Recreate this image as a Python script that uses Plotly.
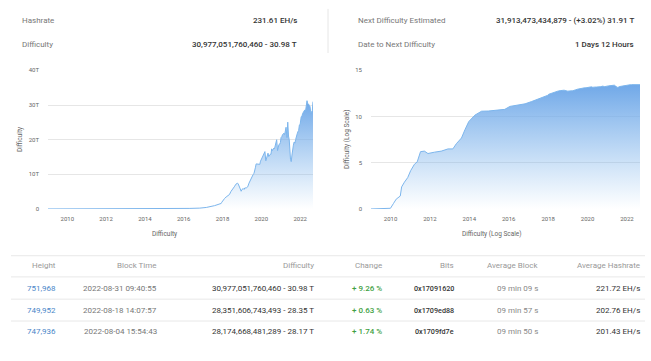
import math
import plotly.graph_objects as go

# ---------------- data ----------------
dates = [
    "2009-01-03", "2009-12-30", "2010-02-25", "2010-04-15", "2010-06-30", "2010-07-25",
    "2010-09-15", "2010-11-15", "2011-01-08", "2011-03-20", "2011-05-10", "2011-07-10",
    "2011-09-20", "2011-11-25", "2012-03-28", "2012-07-30", "2012-12-01", "2013-03-01",
    "2013-05-05", "2013-08-08", "2013-10-10", "2013-12-20", "2014-04-12", "2014-08-15",
    "2014-12-16", "2015-06-20", "2015-10-20", "2016-01-22", "2016-04-27", "2016-10-30",
    "2017-03-01", "2017-08-05", "2017-12-07", "2017-12-18", "2018-01-12", "2018-02-08",
    "2018-03-10", "2018-04-10", "2018-05-10", "2018-06-10", "2018-07-10", "2018-08-10",
    "2018-09-10", "2018-10-10", "2018-10-25", "2018-11-08", "2018-12-03", "2018-12-18",
    "2019-01-01", "2019-01-27", "2019-02-10", "2019-02-24", "2019-03-24", "2019-04-20",
    "2019-05-15", "2019-05-28", "2019-06-24", "2019-07-20", "2019-08-02", "2019-08-15",
    "2019-08-28", "2019-09-11", "2019-09-26", "2019-10-09", "2019-11-06", "2019-12-03",
    "2019-12-17", "2020-01-14", "2020-01-28", "2020-02-10", "2020-02-23", "2020-03-09",
    "2020-03-26", "2020-04-08", "2020-04-23", "2020-05-06", "2020-05-20", "2020-06-04",
    "2020-06-17", "2020-07-01", "2020-07-14", "2020-07-27", "2020-08-23", "2020-09-05",
    "2020-10-01", "2020-10-16", "2020-11-02", "2020-11-15", "2020-11-28", "2020-12-11",
    "2020-12-25", "2021-01-07", "2021-01-20", "2021-02-03", "2021-02-17", "2021-03-02",
    "2021-03-15", "2021-03-28", "2021-04-11", "2021-04-28", "2021-05-13", "2021-05-27",
    "2021-06-10", "2021-07-03", "2021-07-17", "2021-07-31", "2021-08-13", "2021-08-27",
    "2021-09-10", "2021-09-24", "2021-10-09", "2021-10-24", "2021-11-06", "2021-11-21",
    "2021-12-04", "2021-12-18", "2022-01-01", "2022-01-21", "2022-02-03", "2022-02-17",
    "2022-03-02", "2022-03-29", "2022-04-12", "2022-04-26", "2022-05-10", "2022-05-24",
    "2022-06-08", "2022-06-22", "2022-07-06", "2022-07-21", "2022-08-04", "2022-08-18",
    "2022-08-31",
]
difficulty = [
    1, 1.18, 4.0, 11.5, 25, 244,
    800, 2500, 13800, 70000, 126000, 1580000,
    1820000, 1000000, 1410000, 1820000, 3160000, 3160000,
    11.7e6, 47.9e6, 363e6, 2.82e9, 1.41e10, 3.8e10,
    3.98e10, 4.79e10, 6.03e10, 1.26e11, 1.58e11, 2.4e11,
    4.27e11, 9.55e11, 1.59e12, 1.93e12, 2.6e12, 3.0e12,
    3.46e12, 3.84e12, 4.14e12, 5.08e12, 5.95e12, 6.39e12,
    7.15e12, 7.45e12, 7.18e12, 6.65e12, 5.65e12, 5.11e12,
    5.62e12, 5.88e12, 5.62e12, 6.06e12, 6.07e12, 6.38e12,
    7.46e12, 7.93e12, 9.06e12, 9.98e12, 9.99e12, 10.18e12,
    10.77e12, 11.89e12, 13.01e12, 12.98e12, 12.97e12, 12.87e12,
    13.79e12, 14.78e12, 15.55e12, 15.47e12, 15.96e12, 16.55e12,
    13.91e12, 14.72e12, 15.14e12, 16.10e12, 15.14e12, 15.78e12,
    15.78e12, 15.78e12, 17.35e12, 16.85e12, 17.56e12, 17.35e12,
    19.31e12, 19.99e12, 16.85e12, 18.00e12, 18.60e12, 18.67e12,
    19.16e12, 20.61e12, 20.82e12, 21.43e12, 21.72e12, 21.87e12,
    21.45e12, 23.14e12, 23.58e12, 20.61e12, 25.05e12, 21.05e12,
    19.93e12, 14.36e12, 13.67e12, 15.56e12, 17.62e12, 18.42e12,
    19.31e12, 19.00e12, 20.08e12, 21.66e12, 21.66e12, 22.34e12,
    22.67e12, 24.27e12, 24.37e12, 26.64e12, 26.69e12, 27.55e12,
    27.97e12, 28.59e12, 28.23e12, 29.79e12, 31.25e12, 30.28e12,
    30.28e12, 29.90e12, 29.57e12, 27.69e12, 28.17e12, 28.35e12,
    30.98e12,
]
log_difficulty = [math.log10(v) for v in difficulty]

left_ticks = [0, 10e12, 20e12, 30e12, 40e12]
left_ticktext = ["0", "10T", "20T", "30T", "40T"]
right_ticks = [0, 5, 10, 15]

header_left = [("Hashrate", "231.61 EH/s"), ("Difficulty", "30,977,051,760,460 - 30.98 T")]
header_right = [("Next Difficulty Estimated", "31,913,473,434,879 - (+3.02%) 31.91 T"),
                ("Date to Next Difficulty", "1 Days 12 Hours")]

table_headers = ["Height", "Block Time", "Difficulty", "Change", "Bits", "Average Block", "Average Hashrate"]
heights = ["751,968", "749,952", "747,936"]
block_times = ["2022-08-31 09:40:55", "2022-08-18 14:07:57", "2022-08-04 15:54:43"]
table_difficulty = ["30,977,051,760,460 - 30.98 T", "28,351,606,743,493 - 28.35 T", "28,174,668,481,289 - 28.17 T"]
changes = ["+ 9.26 %", "+ 0.63 %", "+ 1.74 %"]
bits = ["0x17091620", "0x1709ed88", "0x1709fd7e"]
avg_block = ["09 min 09 s", "09 min 57 s", "09 min 50 s"]
avg_hashrate = ["221.72 EH/s", "202.76 EH/s", "201.43 EH/s"]

# ---------------- layout helpers ----------------
W, H = 651, 361
def px(x):
    return x / W
def py(y):
    return 1 - y / H

FONT = "Roboto"
LINE = "#7cb5ec"
grad = [[0, "rgba(124,181,236,0.0)"], [1, "rgba(112,168,232,1)"]]

fig = go.Figure()
fig.add_trace(go.Scatter(
    x=dates, y=difficulty, mode="lines", line=dict(color=LINE, width=1),
    fill="tozeroy", fillgradient=dict(type="vertical", colorscale=grad),
    xaxis="x", yaxis="y", hoverinfo="skip", showlegend=False))
fig.add_trace(go.Scatter(
    x=dates, y=log_difficulty, mode="lines", line=dict(color=LINE, width=1),
    fill="tozeroy", fillgradient=dict(type="vertical", colorscale=grad),
    xaxis="x2", yaxis="y2", hoverinfo="skip", showlegend=False))

ydom = [py(209), py(67.7)]
xcommon = dict(type="date", range=[dates[0], dates[-1]], tick0="2010-01-01", dtick="M24",
               tickformat="%Y", showgrid=False, zeroline=False, showline=False, ticks="",
               tickfont=dict(family=FONT, size=6, color="#666"), ticklabelstandoff=5)
ycommon = dict(showgrid=True, gridcolor="#e6e6e6", gridwidth=1, zeroline=False, showline=False,
               ticks="", tickfont=dict(family=FONT, size=6, color="#666"), ticklabelstandoff=8)

fig.update_layout(
    width=W, height=H, margin=dict(l=0, r=0, t=0, b=0, pad=0),
    paper_bgcolor="white", plot_bgcolor="white", showlegend=False,
    xaxis=dict(domain=[px(48), px(313)], anchor="y", **xcommon),
    yaxis=dict(domain=ydom, anchor="x", range=[0, 40e12], tickvals=left_ticks,
               ticktext=left_ticktext, **ycommon),
    xaxis2=dict(domain=[px(371), px(640)], anchor="y2", **xcommon),
    yaxis2=dict(domain=ydom, anchor="x2", range=[0, 15], tickvals=right_ticks, **ycommon),
)

ann = []
def text(x, y, s, anchor="left", size=8, color="#333", weight=None, angle=0):
    f = dict(family=FONT, size=size, color=color)
    if weight:
        f["weight"] = weight
    ann.append(dict(x=px(x), y=py(y), xref="paper", yref="paper", text=s, showarrow=False,
                    xanchor=anchor, yanchor="middle", font=f, textangle=angle))

# header
for i, (lab, val) in enumerate(header_left):
    yy = 17 + i * 24
    text(20, yy, lab, color="#777")
    text(299, yy, val, anchor="right", color="#333", weight=500)
for i, (lab, val) in enumerate(header_right):
    yy = 17 + i * 24
    text(356, yy, lab, color="#777")
    text(636, yy, val, anchor="right", color="#333", weight=500)

# axis titles
text(20.7, 138, "Difficulty", anchor="center", size=6.5, color="#666", angle=-90)
text(347.7, 138, "Difficulty (Log Scale)", anchor="center", size=6.5, color="#666", angle=-90)
text(164, 235, "Difficulty", anchor="center", size=6.5, color="#666")
text(492, 235, "Difficulty (Log Scale)", anchor="center", size=6.5, color="#666")

# table
col_right = [58.3, 159, 315.7, 384.3, 455.7, 540, 642]
for h, xr in zip(table_headers, col_right):
    text(xr, 266.7, h, anchor="right", color="#999")
row_y = [290, 312.3, 334.3]
for i, yy in enumerate(row_y):
    text(col_right[0], yy, heights[i], anchor="right", color="#4a86c8")
    text(col_right[1], yy, block_times[i], anchor="right", color="#777")
    text(col_right[2], yy, table_difficulty[i], anchor="right", color="#333")
    text(col_right[3], yy, changes[i], anchor="right", color="#3f9f43", weight=500)
    text(col_right[4], yy, bits[i], anchor="right", size=7.2, color="#333", weight=500)
    text(col_right[5], yy, avg_block[i], anchor="right", color="#888")
    text(col_right[6], yy, avg_hashrate[i], anchor="right", color="#333")

shapes = [dict(type="line", xref="paper", yref="paper", x0=px(328), x1=px(328), y0=py(5), y1=py(50),
               line=dict(color="#e6e6e6", width=1))]
for ly in [256.7, 278.3, 301, 323.3]:
    shapes.append(dict(type="line", xref="paper", yref="paper", x0=px(11), x1=px(645),
                       y0=py(ly), y1=py(ly), line=dict(color="#e8e8e8", width=1)))

fig.update_layout(annotations=ann, shapes=shapes)
fig.write_html("out.html", config={"displayModeBar": False},
               post_script="document.body.style.margin='0';document.body.style.padding='0';")
